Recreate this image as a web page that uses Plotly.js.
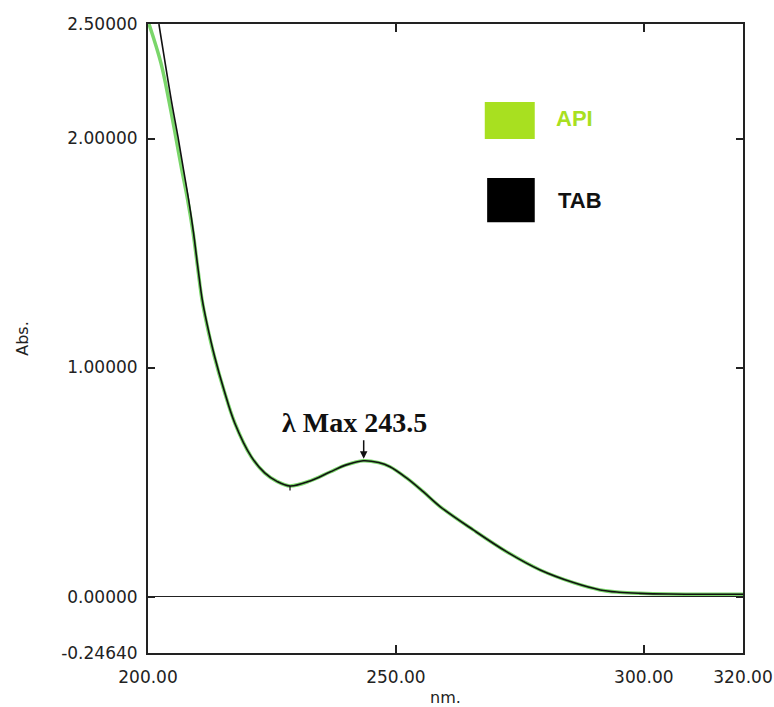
<!DOCTYPE html>
<html>
<head>
<meta charset="utf-8">
<script src="https://cdn.plot.ly/plotly-3.0.1.min.js"></script>
<style>html,body{margin:0;padding:0;background:#fff;}</style>
</head>
<body>
<div id="chart" style="width:774px;height:707px;"></div>
<script>
// Wavelength (nm) and absorbance
const tabWavelength = [202.2, 204.7, 206.05, 207.06, 208.2, 209.18, 210.04, 210.95, 211.86, 213.45, 215.33, 217.49, 220.83, 223.54, 226.0, 228.64, 232.7, 236.7, 240.0, 243.4, 246.5, 248.8, 252.2, 255.5, 258.9, 265.6, 272.3, 279.1, 285.8, 291.2, 295.0, 299.2, 305.0, 320.0];
const tabAbs = [2.5, 2.168, 2.007, 1.877, 1.732, 1.588, 1.44, 1.295, 1.195, 1.047, 0.902, 0.758, 0.611, 0.54, 0.503, 0.483, 0.505, 0.544, 0.575, 0.593, 0.585, 0.567, 0.517, 0.458, 0.393, 0.291, 0.196, 0.116, 0.061, 0.029, 0.019, 0.014, 0.011, 0.010];

const apiWavelength = [200.2, 202.6, 204.2, 205.6, 206.7, 208.0, 209.1, 210.0, 210.9, 211.8, 213.4, 215.3, 217.5, 220.8, 223.5, 226.0, 228.6, 232.7, 236.7, 240.0, 243.4, 246.5, 248.8, 252.2, 255.5, 258.9, 265.6, 272.3, 279.1, 285.8, 291.2, 295.0, 299.2, 305.0, 320.0];
const apiAbs = [2.5, 2.33, 2.168, 2.007, 1.877, 1.732, 1.588, 1.44, 1.295, 1.195, 1.047, 0.902, 0.758, 0.611, 0.54, 0.503, 0.483, 0.505, 0.544, 0.575, 0.593, 0.585, 0.567, 0.517, 0.458, 0.393, 0.291, 0.196, 0.116, 0.061, 0.029, 0.019, 0.014, 0.011, 0.010];

const seriesNames = ["API", "TAB"];
const xTickVals = [200, 250, 300, 320];
const xTickText = ["200.00", "250.00", "300.00", "320.00"];
const yTickVals = [-0.2464, 0, 1, 2, 2.5];
const yTickText = ["-0.24640", "0.00000", "1.00000", "2.00000", "2.50000"];
const lambdaMax = 243.5;
const lambdaMaxAbs = 0.593;
const lambdaMinWl = 228.64;
const lambdaMinAbs = 0.483;

const traces = [
  {x: apiWavelength, y: apiAbs, name: seriesNames[0], mode: "lines", line: {color: "#7ad66a", width: 3.5, shape: "spline", smoothing: 1}, hoverinfo: "skip"},
  {x: tabWavelength, y: tabAbs, name: seriesNames[1], mode: "lines", line: {color: "#111111", width: 1.6, shape: "spline", smoothing: 1}, hoverinfo: "skip"}
];

const tickFont = {family: "DejaVu Sans", size: 17, color: "#222"};

const layout = {
  width: 774, height: 707,
  margin: {l: 148, r: 31, t: 24, b: 54, pad: 0},
  paper_bgcolor: "#fff", plot_bgcolor: "#fff",
  showlegend: false,
  xaxis: {
    range: [200, 320], tickvals: xTickVals, ticktext: xTickText,
    ticks: "inside", ticklen: 8, tickwidth: 2, tickcolor: "#222",
    showline: true, linecolor: "#222", linewidth: 2, mirror: "ticks",
    showgrid: false, zeroline: false, tickfont: tickFont,
    ticklabelstandoff: 8,
    title: {text: "nm.", font: {family: "DejaVu Sans", size: 16, color: "#222"}, standoff: 5}
  },
  yaxis: {
    range: [-0.2464, 2.5], tickvals: yTickVals, ticktext: yTickText,
    ticks: "inside", ticklen: 7, tickwidth: 2, tickcolor: "#222",
    showline: true, linecolor: "#222", linewidth: 2, mirror: "ticks",
    showgrid: false, zeroline: true, zerolinecolor: "#222", zerolinewidth: 1.5,
    tickfont: tickFont, ticklabelstandoff: 5,
    title: {text: "Abs.", font: {family: "DejaVu Sans", size: 16, color: "#222"}, standoff: 29}
  },
  shapes: [
    {type: "rect", xref: "paper", yref: "paper", x0: 0.566, x1: 0.650, y0: 0.817, y1: 0.876, fillcolor: "#a8e020", line: {width: 0}},
    {type: "rect", xref: "paper", yref: "paper", x0: 0.570, x1: 0.650, y0: 0.685, y1: 0.755, fillcolor: "#000", line: {width: 0}}
  ],
  annotations: [
    {xref: "paper", yref: "paper", x: 0.683, y: 0.849, xanchor: "left", yanchor: "middle", text: "<b>" + seriesNames[0] + "</b>", showarrow: false, font: {family: "Liberation Sans", size: 22, color: "#a8e020"}},
    {xref: "paper", yref: "paper", x: 0.686, y: 0.720, xanchor: "left", yanchor: "middle", text: "<b>" + seriesNames[1] + "</b>", showarrow: false, font: {family: "Liberation Sans", size: 22, color: "#111"}},
    {x: 241.65, y: 0.762, xanchor: "center", yanchor: "middle", text: "<b>λ Max " + lambdaMax + "</b>", showarrow: false, font: {family: "Liberation Serif", size: 28, color: "#111"}},
    {x: lambdaMax, y: lambdaMaxAbs, ax: 0, ay: -22, text: "", showarrow: true, arrowhead: 2, arrowsize: 1, arrowwidth: 1.5, arrowcolor: "#111", standoff: 2},
    {x: lambdaMinWl, y: lambdaMinAbs, ax: 0, ay: 6, text: "", showarrow: true, arrowhead: 0, arrowwidth: 1.2, arrowcolor: "#111"}
  ]
};

Plotly.newPlot("chart", traces, layout, {displayModeBar: false, staticPlot: true});
</script>
</body>
</html>
